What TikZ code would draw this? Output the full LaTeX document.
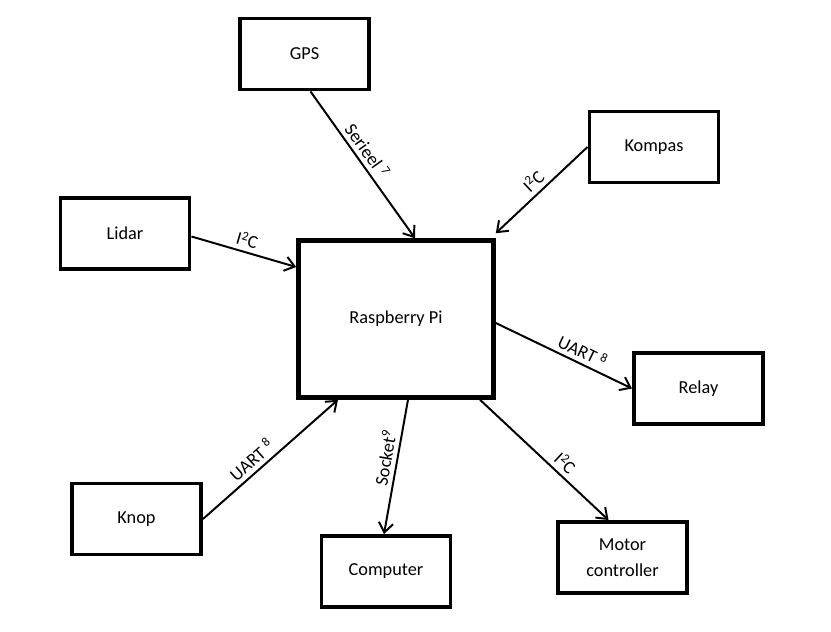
\documentclass[tikz,border=0pt]{standalone}
\usepackage{fontspec}
\setmainfont{Carlito}
\usetikzlibrary{arrows.meta,calc}

\begin{document}
\begin{tikzpicture}[x=0.025cm, y=-0.025cm,
		box/.style={draw, line width=2.8pt, minimum width=3.225cm, minimum height=1.775cm, align=center, font=\fontsize{13}{18.5}\selectfont},
		link/.style={line width=1.4pt, -{Straight Barb[length=2.4mm, width=3.6mm, line width=1.4pt]}},
		lbl/.style={sloped, above, inner sep=3pt, font=\fontsize{13}{16}\selectfont}]
%		\draw[help lines] (0,0) grid (831,632);
		\useasboundingbox (0,0) rectangle (831,632);
		\node[box] (gps) at (304.5,54) {GPS};
		\node[box] (kompas) at (654,147) {Kompas};
		\node[box] (lidar) at (125,233.5) {Lidar};
		\node[box, line width=3.2pt, minimum width=4.875cm, minimum height=3.925cm] (rpi) at (396,319) {Raspberry Pi};
		\node[box] (relay) at (698.5,388.5) {Relay};
		\node[box] (knop) at (136.5,519) {Knop};
		\node[box] (computer) at (386,571.5) {Computer};
		\node[box] (motor) at (622.5,557.5) {Motor\\controller};
		\draw[link] ($(gps.south)+(6,0)$) -- node[lbl, pos=0.45] {Serieel \textsuperscript{7}} ($(rpi.north)+(19,0)$);
		\draw[link] (kompas.west) -- node[lbl, pos=0.5] {I\textsuperscript{2}C} ($(rpi.north east)+(0,-5)$);
		\draw[link] ($(lidar.east)+(0,3)$) -- node[lbl, pos=0.5] {I\textsuperscript{2}C} ($(rpi.west)+(0,-52)$);
		\draw[link] ($(rpi.east)+(0,4)$) -- node[lbl, pos=0.6] {UART \textsuperscript{8}} (relay.west);
		\draw[link] (knop.east) -- node[lbl, pos=0.42] {UART \textsuperscript{8}} ($(rpi.south)+(-58,0)$);
		\draw[link] ($(rpi.south)+(12,0)$) -- node[lbl, pos=0.45] {Socket\textsuperscript{9}} ($(computer.north)+(-2,0)$);
		\draw[link] ($(rpi.south)+(84,0)$) -- node[lbl, pos=0.6] {I\textsuperscript{2}C} ($(motor.north)+(-14,0)$);
	\end{tikzpicture}
\end{document}
